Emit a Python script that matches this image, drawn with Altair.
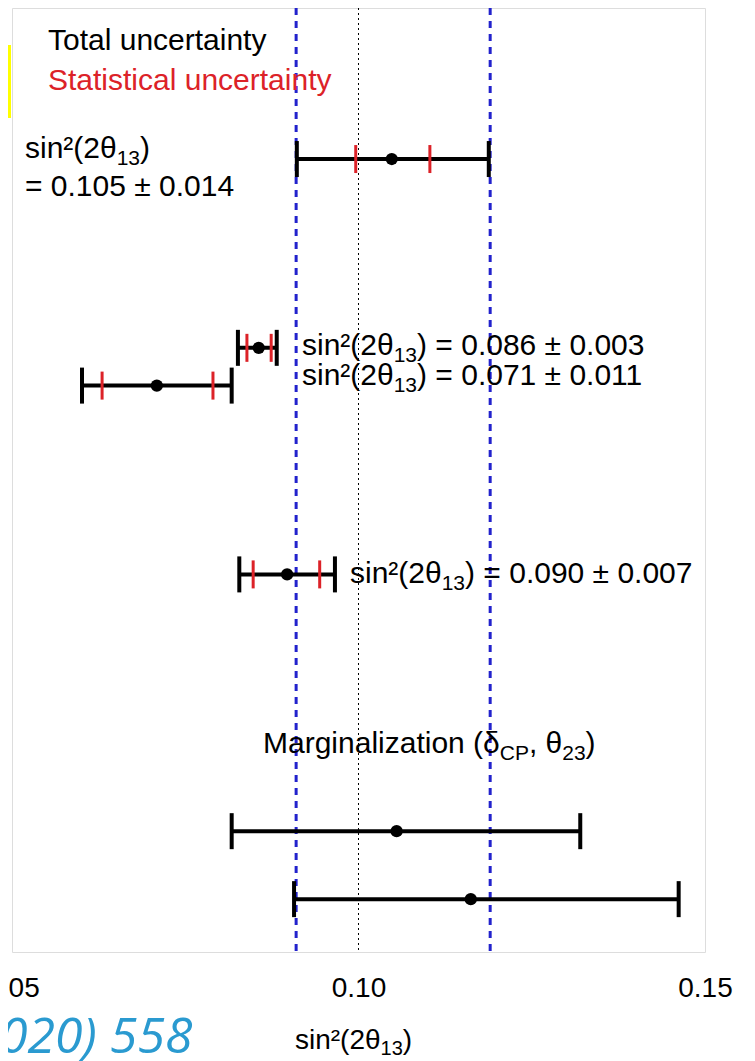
import altair as alt
import pandas as pd

# ---- data ----
row_pos = [4, 9, 10, 15, 21.8, 23.6]
center = [0.1048, 0.0856, 0.0709, 0.0897, 0.1055, 0.1162]
total_lo = [0.0911, 0.0826, 0.0601, 0.0828, 0.0817, 0.0907]
total_hi = [0.1188, 0.0882, 0.0817, 0.0966, 0.1320, 0.1462]
stat_lo = [0.0996, 0.0839, 0.0630, 0.0848, None, None]
stat_hi = [0.1103, 0.0874, 0.0790, 0.0944, None, None]
band_lines = [0.091, 0.119]
ref_line = [0.10]
x_ticks = [0.05, 0.10, 0.15]

df = pd.DataFrame({"pos": row_pos, "c": center, "lo": total_lo, "hi": total_hi,
                   "slo": stat_lo, "shi": stat_hi})
df_stat = df.dropna()

FONT = "Liberation Sans"
RED = "#dc2228"
BLUE = "#2222cc"

xs = alt.Scale(domain=[0.05, 0.15], nice=False, zero=False)
ys = alt.Scale(domain=[0, 25], reverse=True, nice=False, zero=False)

X_AXIS = alt.Axis(values=x_ticks, format=".2f", grid=False, domain=False, ticks=False,
                  tickSize=0, labelFontSize=28, labelFont=FONT, labelColor="black",
                  labelPadding=22, labelFlush=False, labelOverlap=False, title=None)

base = alt.Chart(df)

blue = alt.Chart(pd.DataFrame({"v": band_lines})).mark_rule(
    color=BLUE, strokeDash=[7, 6], strokeWidth=3).encode(
    x=alt.X("v:Q", scale=xs, axis=X_AXIS))
dotted = alt.Chart(pd.DataFrame({"v": ref_line})).mark_rule(
    color="black", strokeDash=[2, 3], strokeWidth=1).encode(x=alt.X("v:Q", scale=xs))

hline = base.mark_rule(color="black", strokeWidth=4).encode(
    x=alt.X("lo:Q", scale=xs), x2="hi:Q", y=alt.Y("pos:Q", scale=ys, axis=None))
cap_lo = base.mark_tick(orient="vertical", size=36, thickness=4, color="black", opacity=1).encode(
    x=alt.X("lo:Q", scale=xs), y=alt.Y("pos:Q", scale=ys, axis=None))
cap_hi = base.mark_tick(orient="vertical", size=36, thickness=4, color="black", opacity=1).encode(
    x=alt.X("hi:Q", scale=xs), y=alt.Y("pos:Q", scale=ys, axis=None))
st_lo = alt.Chart(df_stat).mark_tick(orient="vertical", size=28, thickness=3, color=RED, opacity=1).encode(
    x=alt.X("slo:Q", scale=xs), y=alt.Y("pos:Q", scale=ys, axis=None))
st_hi = alt.Chart(df_stat).mark_tick(orient="vertical", size=28, thickness=3, color=RED, opacity=1).encode(
    x=alt.X("shi:Q", scale=xs), y=alt.Y("pos:Q", scale=ys, axis=None))
dots = base.mark_circle(size=150, color="black", opacity=1).encode(
    x=alt.X("c:Q", scale=xs), y=alt.Y("pos:Q", scale=ys, axis=None))

# Arial / Liberation Sans advance widths (per 1000 em) for the pieces before subscripts
W = {"s": 500, "i": 222, "n": 556, "²": 333, "(": 333, ")": 333, "θ": 556, "δ": 556,
     "M": 833, "a": 556, "r": 333, "g": 556, "l": 222, "z": 500, "t": 278, "o": 556,
     " ": 278, ",": 278, "C": 722, "P": 667, "0": 556, "1": 556, "2": 556, "3": 556}


def width(s, size):
    return sum(W.get(ch, 556) for ch in s) * size / 1000.0


def txt(s, x, y, size=30, color="black", align="left", font=FONT, style="normal"):
    return alt.Chart(pd.DataFrame({"t": [s]})).mark_text(
        align=align, baseline="alphabetic", fontSize=size, color=color,
        font=font, fontStyle=style).encode(x=alt.value(x), y=alt.value(y), text="t:N")


def rich(parts, x, y, size=30, sub_size=21, dy=7):
    """parts: list of (text, is_subscript)."""
    out = []
    cx = x
    for s, sub in parts:
        fs = sub_size if sub else size
        out.append(txt(s, cx, y + (dy if sub else 0), fs))
        cx += width(s, fs)
    return out


def sin_label(value, x, y):
    return rich([("sin²(2θ", False), ("13", True), (")" + value, False)], x, y)


texts = [
    txt("Total uncertainty", 36, 42),
    txt("Statistical uncertainty", 36, 82, color=RED),
    *rich([("sin²(2θ", False), ("13", True), (")", False)], 13, 150),
    txt("= 0.105 ± 0.014", 13, 188),
    *sin_label(" = 0.086 ± 0.003", 290, 347),
    *sin_label(" = 0.071 ± 0.011", 290, 377),
    *sin_label(" = 0.090 ± 0.007", 338, 575),
    *rich([("Marginalization (δ", False), ("CP", True), (", θ", False), ("23", True),
           (")", False)], 251, 745),
    *rich([("sin²(2θ", False), ("13", True), (")", False)], 283, 1041, size=28, sub_size=20, dy=6),
    txt("020) 558", -12, 1045, 50, "#2a9ad0", font="Open Sans", style="italic"),
]

yellow = alt.Chart(pd.DataFrame({"a": [0]})).mark_rect(color="#ffff00", opacity=1).encode(
    x=alt.value(-12), x2=alt.value(-1), y=alt.value(37), y2=alt.value(110))

chart = alt.layer(blue, dotted, hline, cap_lo, cap_hi, st_lo, st_hi, dots, yellow, *texts).properties(
    width=693, height=944,
    autosize=alt.AutoSizeParams(type="none"),
    padding={"left": 4, "top": 0, "right": 40, "bottom": 109},
).configure_view(stroke="#808080", strokeWidth=1.5).configure(background="white")

chart.save("out.html", embed_options={"renderer": "svg", "actions": False})
